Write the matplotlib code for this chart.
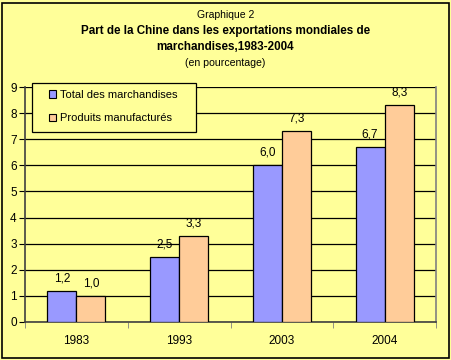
import matplotlib
matplotlib.use("Agg")
import matplotlib.pyplot as plt
from matplotlib.patches import Rectangle
import numpy as np

plt.rcParams['font.family'] = ['Liberation Sans', 'DejaVu Sans']

years = ["1983", "1993", "2003", "2004"]
total = [1.2, 2.5, 6.0, 6.7]
manuf = [1.0, 3.3, 7.3, 8.3]
series_names = ["Total des marchandises", "Produits manufacturés"]

BG = "#FFFF99"
BLUE = "#9999FF"
ORANGE = "#FFCC99"

fig = plt.figure(figsize=(4.51, 3.60), dpi=100)
fig.patch.set_facecolor(BG)
fig.add_artist(Rectangle((1.5/451, 2.5/360), 447/451, 355/360, transform=fig.transFigure,
                         fill=False, edgecolor="black", lw=1.2))

ax = fig.add_axes([25/451, 38/360, 411/451, 235/360])
ax.set_facecolor(BG)

x = np.arange(len(years))
w = 0.283
b1 = ax.bar(x - w/2, total, w, color=BLUE, edgecolor="black", lw=0.9, label=series_names[0], zorder=3)
b2 = ax.bar(x + w/2, manuf, w, color=ORANGE, edgecolor="black", lw=0.9, label=series_names[1], zorder=3)

fmt = lambda v: ("%.1f" % v).replace(".", ",")
for bars, vals in ((b1, total), (b2, manuf)):
    for r, v in zip(bars, vals):
        ax.text(r.get_x() + r.get_width()/2, v + 0.25, fmt(v), ha="center", va="bottom", fontsize=8.5)

ax.set_xlim(-0.5, 3.5)
ax.set_ylim(0, 9)
ax.set_yticks(range(0, 10))
ax.yaxis.grid(True, color="black", lw=0.9, zorder=0)
ax.set_axisbelow(True)

ax.set_xticks(x)
ax.set_xticklabels(years, fontsize=8.5)
ax.set_xticks(np.arange(-0.5, 4.0, 1.0), minor=True)
ax.tick_params(axis="x", which="major", length=0, pad=9)
ax.tick_params(axis="x", which="minor", length=4, direction="out", color="gray")
ax.tick_params(axis="y", length=4, direction="out", labelsize=8.5, pad=2)

ax.spines["top"].set_visible(False)
ax.spines["right"].set_color("gray")
ax.spines["left"].set_color("#404040")
ax.spines["bottom"].set_color("#404040")
for s in ("left", "bottom", "right"):
    ax.spines[s].set_linewidth(1.2)

# legend box drawn separately so its padding matches the original
ax.add_patch(Rectangle((32/451, (360-132)/360), 164/451, 49/360, transform=fig.transFigure,
                       facecolor=BG, edgecolor="black", lw=0.9, zorder=4, clip_on=False))
leg = ax.legend(loc="upper left", bbox_to_anchor=(49/451, (360-90)/360),
                bbox_transform=fig.transFigure, fontsize=8, frameon=False,
                handlelength=0.65, handleheight=0.65, handletextpad=0.35, labelspacing=1.2,
                borderpad=0, borderaxespad=0)
leg.set_zorder(5)
for h in leg.legend_handles:
    h.set_linewidth(0.8)

fig.text(0.5, 1 - 15/360, "Graphique 2", ha="center", va="center", fontsize=7.5)
fig.text(0.5, 1 - 39/360, "Part de la Chine dans les exportations mondiales de\nmarchandises,1983-2004",
         ha="center", va="center", fontsize=8.4, fontweight="bold", linespacing=1.35)
fig.text(0.5, 1 - 63/360, "(en pourcentage)", ha="center", va="center", fontsize=7.6)

fig.savefig("out.png", dpi=100, facecolor=BG)
